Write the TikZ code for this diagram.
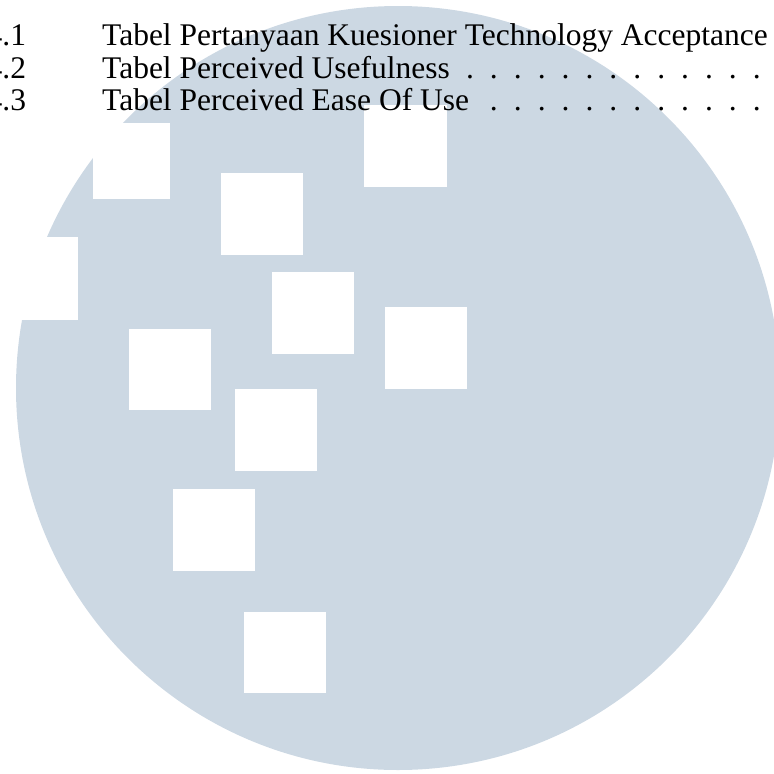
\documentclass[tikz,border=0pt]{standalone}
\usepackage{xcolor}
\usepackage{fontspec}
\setmainfont{Liberation Serif}
\usepackage{tikz}
\usetikzlibrary{positioning}
\definecolor{logoblue}{RGB}{204,216,227}

\begin{document}
\begin{tikzpicture}[
    x=1pt, y=-1pt,
    logo/.style={fill=logoblue},
    hole/.style={fill=white},
    entry/.style={anchor=base west, inner sep=0pt, font=\fontsize{31.5}{32.5}\selectfont},
    leader/.style={anchor=base, inner sep=0pt, font=\fontsize{31.5}{32.5}\selectfont}
]
\useasboundingbox (0,0) rectangle (774,774);
\clip (0,0) rectangle (774,774);

% Watermark disc
\fill[logo] (398,388) circle (382);

% White squares cut into the disc
\fill[hole] (93,123) rectangle (170,199);
\fill[hole] (364,105) rectangle (447,187);
\fill[hole] (221,173) rectangle (303,255);
\fill[hole] (-4,237) rectangle (78,320);
\fill[hole] (272,272) rectangle (354,354);
\fill[hole] (385,307) rectangle (467,389);
\fill[hole] (129,329) rectangle (211,410);
\fill[hole] (235,389) rectangle (317,471);
\fill[hole] (173,489) rectangle (255,571);
\fill[hole] (244,612) rectangle (326,693);

% List of tables
\node[entry] (num1) at (-13.5,45) {4.1};
\node[entry] (num2) at (-13.5,78) {4.2};
\node[entry] (num3) at (-13.5,110) {4.3};
\node[entry] (tab1) at (102,45) {Tabel Pertanyaan Kuesioner Technology Acceptance};
\node[entry] (tab2) at (102,78) {Tabel Perceived Usefulness};
\node[entry] (tab3) at (102,110) {Tabel Perceived Ease Of Use};

% Leader dots
\foreach \i in {0,...,12}
    \node[leader] (dotb\i) at (470+23.9*\i,78) {.};
\foreach \i in {1,...,12}
    \node[leader] (dotc\i) at (470+23.9*\i,110) {.};

\end{tikzpicture}
\end{document}
